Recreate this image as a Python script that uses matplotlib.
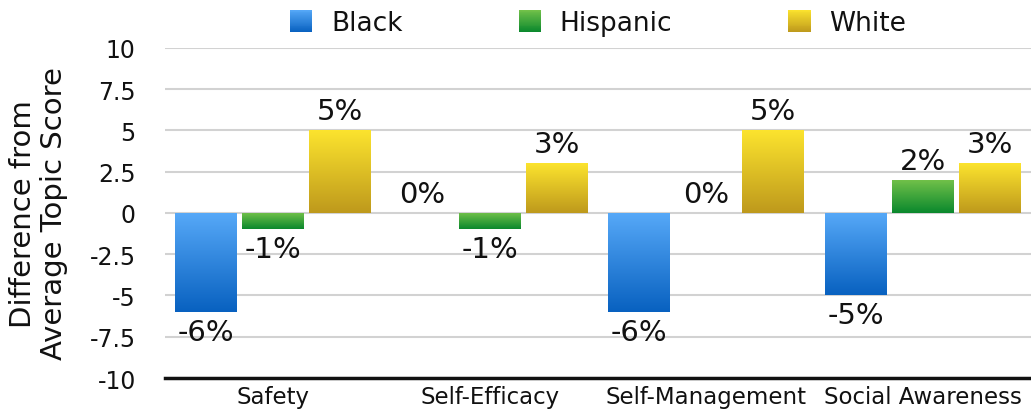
import numpy as np
import matplotlib
matplotlib.use("Agg")
import matplotlib.pyplot as plt
from matplotlib.colors import LinearSegmentedColormap, to_rgb
from matplotlib.patches import Rectangle
from matplotlib.legend_handler import HandlerBase

categories = ["Safety", "Self-Efficacy", "Self-Management", "Social Awareness"]
groups = ["Black", "Hispanic", "White"]
black = [-6, 0, -6, -5]
hispanic = [-1, -1, 0, 2]
white = [5, 3, 5, 3]
yticks = [10, 7.5, 5, 2.5, 0, -2.5, -5, -7.5, -10]
ytick_labels = ["10", "7.5", "5", "2.5", "0", "-2.5", "-5", "-7.5", "-10"]

# (top colour, bottom colour) of each series' vertical gradient
gradients = {
    "Black": ("#57A9F8", "#0861C0"),
    "Hispanic": ("#74C24A", "#0A882D"),
    "White": ("#FCE42E", "#BE991C"),
}

plt.rcParams["font.family"] = ["DejaVu Sans"]
plt.rcParams["axes.unicode_minus"] = False

fig = plt.figure(figsize=(10.31, 4.10), dpi=100)
ax = fig.add_axes([0.16, 0.0756, 0.84, 0.805])

x = np.arange(len(categories))
width = 0.286
offsets = [-0.31, 0.0, 0.31]
series = [black, hispanic, white]


def grad_cmap(name):
    top, bottom = gradients[name]
    return LinearSegmentedColormap.from_list(name, [top, bottom])


for name, vals, off in zip(groups, series, offsets):
    cmap = grad_cmap(name)
    bars = ax.bar(x + off, vals, width, color="none", edgecolor="none", zorder=3)
    grad = np.linspace(0, 1, 256).reshape(-1, 1)
    for bar, v in zip(bars, vals):
        if v != 0:
            x0 = bar.get_x()
            x1 = x0 + bar.get_width()
            y0, y1 = sorted([0, v])
            im = ax.imshow(grad, cmap=cmap, aspect="auto", origin="upper",
                           extent=(x0, x1, y0, y1), zorder=3, interpolation="bilinear")
            im.set_clip_path(bar)
        cx = bar.get_x() + bar.get_width() / 2
        label = f"{v}%"
        if v >= 0:
            ax.annotate(label, (cx, v), xytext=(0, 8), textcoords="offset points",
                        ha="center", va="baseline", fontsize=21, color="#111111", zorder=4)
        else:
            ax.annotate(label, (cx, v), xytext=(0, -4), textcoords="offset points",
                        ha="center", va="top", fontsize=21, color="#111111", zorder=4)

ax.set_xlim(-0.5, 3.5)
ax.set_ylim(-10, 10)
ax.set_xticks(x)
ax.set_xticklabels(categories, fontsize=16.5)
ax.set_yticks(yticks)
ax.set_yticklabels(ytick_labels, fontsize=17)
ax.tick_params(axis="both", length=0, colors="#111111")
ax.tick_params(axis="y", pad=21)
ax.tick_params(axis="x", pad=5)
ax.grid(axis="y", color="#D2D2D2", linewidth=1.5, zorder=0)
ax.set_axisbelow(True)
for side in ["top", "right", "left"]:
    ax.spines[side].set_visible(False)
ax.spines["bottom"].set_linewidth(2.5)
ax.spines["bottom"].set_color("#111111")
ax.spines["bottom"].set_zorder(5)

ax.set_ylabel("Difference from\nAverage Topic Score", fontsize=21, color="#111111",
              linespacing=1.12)
ax.yaxis.set_label_coords(-0.112, 0.5)


class GradientHandler(HandlerBase):
    def create_artists(self, legend, orig_handle, xdescent, ydescent, width, height,
                       fontsize, trans):
        name = orig_handle.get_label()
        top, bottom = (np.array(to_rgb(c)) for c in gradients[name])
        n = 24
        side = width
        x0 = -xdescent
        y0 = -ydescent + (height - side) / 2
        strips = []
        for i in range(n):
            t = (i + 0.5) / n
            col = bottom * (1 - t) + top * t
            strips.append(Rectangle((x0, y0 + side * i / n), side, side / n * 1.05,
                                    facecolor=col, edgecolor="none", transform=trans))
        return strips


handles = [Rectangle((0, 0), 1, 1, label=g) for g in groups]
fig.legend(handles, groups, handler_map={Rectangle: GradientHandler()},
           loc="center", bbox_to_anchor=(598 / 1031, 1 - 24 / 410), ncol=3,
           frameon=False, fontsize=19, handlelength=0.85, handleheight=0.85,
           handletextpad=0.7, columnspacing=4.4, labelcolor="#111111")

fig.savefig("out.png", dpi=100)
